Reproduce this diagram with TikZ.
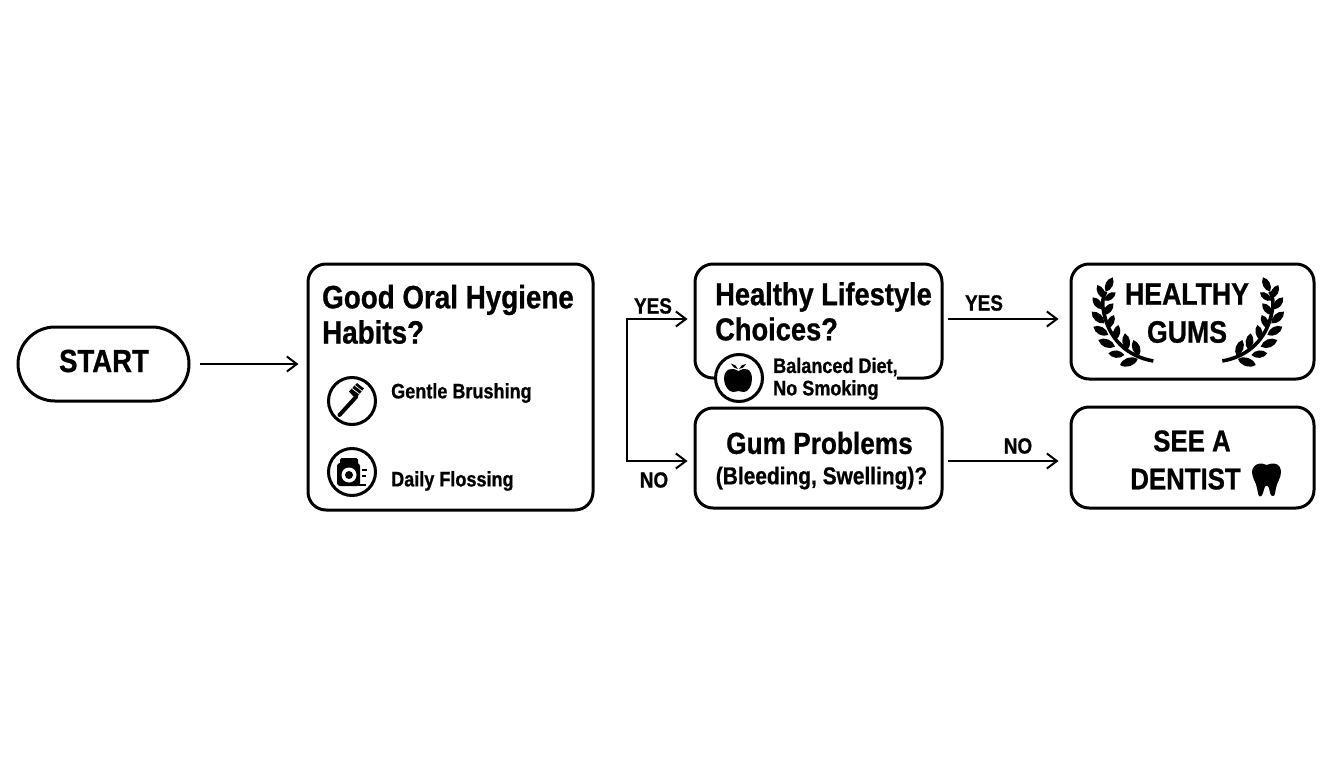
\documentclass[tikz,border=0pt]{standalone}
\usepackage{fontspec}
\setmainfont{Liberation Sans}[FakeStretch=0.86,BoldFeatures={FakeBold=0.8}]
\usetikzlibrary{calc,arrows.meta}
\newcommand{\fs}[1]{\fontsize{#1}{#1}\selectfont}
\newcommand{\lf}[4]{\fill (#1,#2) to[bend left=52] (#3,#4) to[bend left=52] (#1,#2);}
\newcommand{\laurel}{%
  \draw[line width=3.6] (265,303) .. controls (190,290) and (130,240) .. (115,150) .. controls (110,125) and (115,110) .. (122,95);
  \lf{122}{95}{143}{52}\lf{118}{115}{97}{75}\lf{118}{122}{152}{97}\lf{112}{148}{83}{112}
  \lf{115}{165}{145}{130}\lf{118}{190}{80}{155}\lf{128}{205}{147}{165}\lf{130}{225}{85}{200}
  \lf{150}{240}{160}{195}\lf{150}{260}{100}{240}\lf{187}{270}{180}{220}\lf{178}{285}{130}{280}
  \lf{222}{288}{205}{240}\lf{218}{297}{165}{315}}
\tikzset{
  box/.style={draw=black,line width=3pt,rounded corners=18pt,fill=white,inner sep=0pt},
  lbl/.style={inner sep=0pt,text=black,font=\bfseries},
  flow/.style={draw=black,line width=2pt,-{Straight Barb[length=10pt,width=15pt,line width=2pt]}},
  ring/.style={circle,draw=black,line width=3pt,fill=white,minimum size=47pt,inner sep=0pt}
}
\begin{document}
\begin{tikzpicture}[x=1pt,y=-1pt]
\useasboundingbox (0,0) rectangle (1344,768);
\fill[white] (0,0) rectangle (1344,768);
% boxes
\node[box,rounded corners=37pt,minimum width=171pt,minimum height=74pt] (start) at (103.5,364) {};
\node[box,minimum width=285pt,minimum height=246pt] (main) at (450.5,387) {};
\node[box,minimum width=247pt,minimum height=114pt] (life) at (818.5,321) {};
\node[box,minimum width=247pt,minimum height=100pt] (gum) at (818.5,458) {};
\node[box,minimum width=243pt,minimum height=115pt] (healthy) at (1192.5,321.5) {};
\node[box,minimum width=243pt,minimum height=101pt] (see) at (1192.5,457.5) {};
% box texts
\node[lbl,font=\bfseries\fs{32}] (tstart) at (104,361) {START};
\node[lbl,font=\bfseries\fs{32.3},anchor=west] (tmain1) at (322,300) {Good Oral Hygiene};
\node[lbl,font=\bfseries\fs{32.3},anchor=west] (tmain2) at (322,332) {Habits?};
\node[lbl,font=\bfseries\fs{21},anchor=west] (tbrush) at (391,393) {Gentle Brushing};
\node[lbl,font=\bfseries\fs{21},anchor=west] (tfloss) at (391,481) {Daily Flossing};
\node[lbl,font=\bfseries\fs{31.7},anchor=west] (tlife1) at (715,297) {Healthy Lifestyle};
\node[lbl,font=\bfseries\fs{31.7},anchor=west] (tlife2) at (715,329) {Choices?};
% break in the lifestyle box outline
\node[fill=white,inner sep=0pt,minimum width=137pt,minimum height=46pt,anchor=west] (lifegap) at (760,377) {};
\node[lbl,font=\bfseries\fs{21},anchor=west] (tdiet1) at (773,367) {Balanced Diet,};
\node[lbl,font=\bfseries\fs{21},anchor=west] (tdiet2) at (773,390) {No Smoking};
\node[lbl,font=\bfseries\fs{30.5}] (tgum1) at (819.5,443) {Gum Problems};
\node[lbl,font=\bfseries\fs{24.3}] (tgum2) at (821.5,478) {(Bleeding, Swelling)?};
\node[lbl,font=\bfseries\fs{31}] (th1) at (1187,294) {HEALTHY};
\node[lbl,font=\bfseries\fs{31}] (th2) at (1187,332) {GUMS};
\node[lbl,font=\bfseries\fs{30}] (ts1) at (1192,441) {SEE A};
\node[lbl,font=\bfseries\fs{30}] (ts2) at (1185.5,479) {DENTIST};
% connectors
\coordinate (branch) at (627,390);
\draw[flow,shorten <=9pt,shorten >=8pt] (start.east) -- (start.east -| main.west);
\draw[flow,shorten >=6pt] (branch) |- ([yshift=2pt]life.west);
\draw[flow,shorten >=6pt] (branch) |- ([yshift=-3pt]gum.west);
\draw[flow,shorten <=4pt,shorten >=11pt] ([yshift=2pt]life.east) -- ([yshift=2pt]life.east -| healthy.west);
\draw[flow,shorten <=4pt,shorten >=11pt] ([yshift=-3pt]gum.east) -- ([yshift=-3pt]gum.east -| see.west);
% connector labels
\node[lbl,font=\bfseries\fs{22}] (ly1) at (653,306) {YES};
\node[lbl,font=\bfseries\fs{22}] (ln1) at (654,480) {NO};
\node[lbl,font=\bfseries\fs{22}] (ly2) at (984,303) {YES};
\node[lbl,font=\bfseries\fs{22}] (ln2) at (1018,446) {NO};
% brush icon
\node[ring] (ibrush) at (352,401) {};
\draw[line width=4pt,line cap=round] (339.5,415) -- (356,397);
\fill (349,391.5) -- (357,383) -- (364,388.5) -- (357,397) -- (354,397) -- cycle;
\draw[white,line width=.7pt] (352,388.5) -- (359.5,394) (355,385.5) -- (362,391);
% floss icon
\node[ring] (ifloss) at (352,472) {};
\fill[rounded corners=3pt] (337,463) rectangle (360,486);
\fill[rounded corners=1.5pt] (340,458) rectangle (358,465);
\fill[white] (349,475) circle (7.5);
\fill (349,475) circle (4);
\draw[line width=1.4pt] (362,470) -- (367,470) (362,476) -- (366,476) (358,485) -- (366,485);
% apple icon
\node[ring] (iapple) at (739,378) {};
\fill (738.5,371) .. controls (733,367) and (724,368) .. (724,379) .. controls (724,386) and (729,392) .. (733,392) .. controls (736,392) and (737,391) .. (738.5,391) .. controls (740,391) and (741,392) .. (744,392) .. controls (748,392) and (752,386) .. (752,379) .. controls (752,368) and (744,367) .. (738.5,371) -- cycle;
\fill (738,369) .. controls (737,366) and (734,364) .. (731,363.5) .. controls (733,367) and (735,369) .. (738,369) -- cycle;
\fill (739,369) .. controls (740,366) and (743,364) .. (746,364) .. controls (744,367) and (742,369) .. (739,369) -- cycle;
% laurels
\begin{scope}[shift={(1065,260)},x=0.3333pt,y=-0.3333pt]\laurel\end{scope}
\begin{scope}[shift={(1310.67,260)},x=-0.3333pt,y=-0.3333pt]\laurel\end{scope}
% tooth
\fill (1260,463.5) .. controls (1264,463) and (1264,465) .. (1266.5,465) .. controls (1269,465) and (1270,463) .. (1274,463.5) .. controls (1279,464) and (1281,468) .. (1281,472) .. controls (1281,478) and (1277,482) .. (1276,488) .. controls (1275,493) and (1275,496) .. (1273,496) .. controls (1270,496) and (1270,492) .. (1269,488) .. controls (1268,485) and (1265,485) .. (1264.5,488) .. controls (1263,492) and (1263,496) .. (1260,496.5) .. controls (1258,496) and (1258,493) .. (1257,488) .. controls (1256,482) and (1252,478) .. (1252,472) .. controls (1252,468) and (1255,464) .. (1260,463.5) -- cycle;
\end{tikzpicture}
\end{document}
